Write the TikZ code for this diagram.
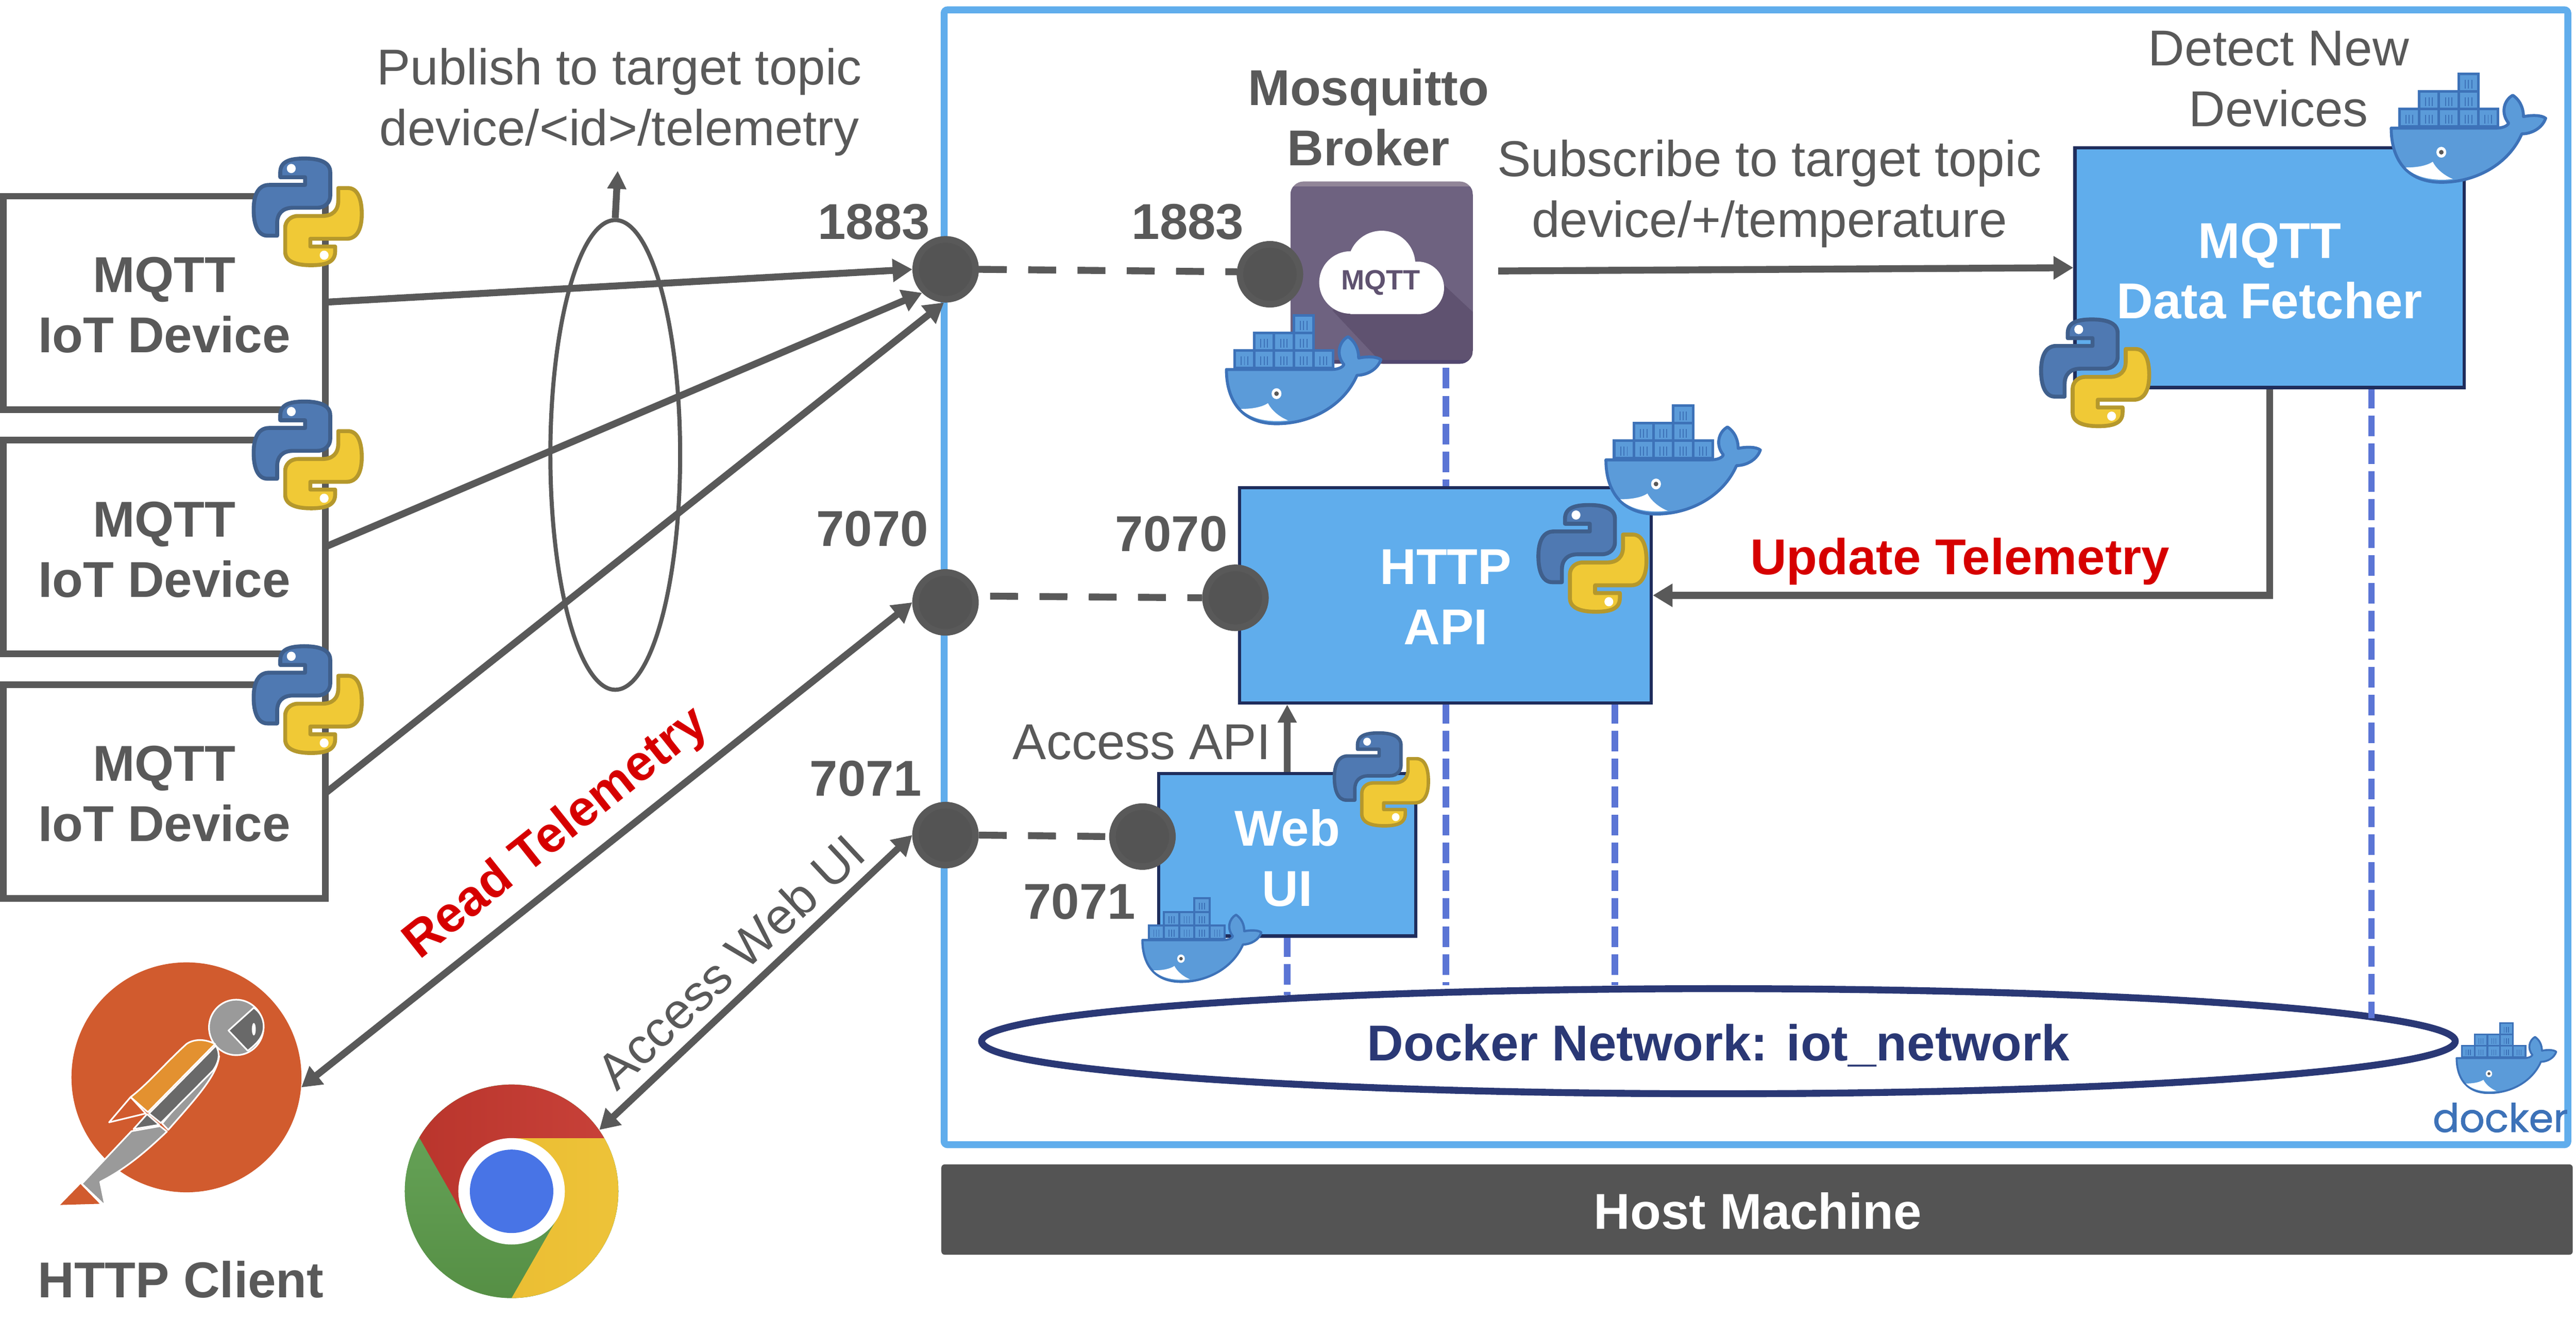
\documentclass[tikz,border=0pt]{standalone}
\usepackage{fontspec}
\setmainfont{Liberation Sans}
\newfontfamily\dockerfont[FakeBold=1.2]{Poppins}
\usetikzlibrary{arrows.meta,shapes.geometric}
\definecolor{grayink}{HTML}{595959}
\definecolor{portfill}{HTML}{545454}
\definecolor{hostgray}{HTML}{545454}
\definecolor{boxblue}{HTML}{60ADEC}
\definecolor{boxedge}{HTML}{1F2D5C}
\definecolor{netnavy}{HTML}{2A3875}
\definecolor{linkblue}{HTML}{5B75D5}
\definecolor{alertred}{HTML}{D60000}
\definecolor{pyblue}{HTML}{4F79B2}
\definecolor{pybluee}{HTML}{3F5F8C}
\definecolor{pyyel}{HTML}{F0C936}
\definecolor{pyyele}{HTML}{B5982C}
\definecolor{whalefill}{HTML}{5B9BD9}
\definecolor{whaleedge}{HTML}{3D72B8}
\definecolor{pmorange}{HTML}{D15B2E}
\definecolor{pmwing}{HTML}{E39130}
\definecolor{pmdark}{HTML}{696969}
\definecolor{pmgray}{HTML}{9A9A9A}
\definecolor{mqtta}{HTML}{6E6280}
\definecolor{mqttb}{HTML}{5F5270}
\definecolor{mqttc}{HTML}{918598}
\definecolor{mqttd}{HTML}{524870}
\definecolor{chgreA}{HTML}{6AA85C}
\definecolor{chgreB}{HTML}{558E44}
\definecolor{chyelA}{HTML}{EBBE33}
\definecolor{chyelB}{HTML}{EEC43A}
\definecolor{chredA}{HTML}{B8342B}
\definecolor{chredB}{HTML}{C9423A}
\definecolor{chblu}{HTML}{4874E6}
\newcommand{\pysnake}{(32.3,1.5) .. controls (22,1.5) and (17.6,4) .. (17.6,10) -- (17.6,12.9) -- (32.7,12.9) -- (32.7,17.6) -- (10.8,17.6) .. controls (4,17.6) and (1.4,24) .. (1.4,32.7) .. controls (1.4,42) and (4,48.5) .. (9.8,48.5) -- (15.7,48.5) -- (15.7,40.9) .. controls (15.7,35) and (19,31.5) .. (25.5,31.5) -- (40.2,31.5) .. controls (45,31.5) and (48,28) .. (48,24.4) -- (48,9.8) .. controls (48,4) and (42,1.5) .. (32.3,1.5) -- cycle}
\newcommand{\pyicon}[3]{%
 \begin{scope}[shift={(#1,#2)},scale=#3]
  \filldraw[fill=pyblue,draw=pybluee,line width=#3*2.4pt,line join=round] \pysnake;
  \fill[white] (24.3,7.6) ellipse (2.7 and 2.8);
  \begin{scope}[shift={(68.6,68)},xscale=-1,yscale=-1]
   \filldraw[fill=pyyel,draw=pyyele,line width=#3*2.4pt,line join=round] \pysnake;
   \fill[white] (24.3,7.6) ellipse (2.7 and 2.8);
  \end{scope}
 \end{scope}}
\newcommand{\boxrow}[3]{\filldraw[fill=whalefill,draw=whaleedge,line width=#3*1.6pt] (#1,#2) rectangle ++(12,10.7);
  \draw[whaleedge,line width=#3*.6pt] (#1+4,#2+3.5) -- ++(0,5.5) (#1+6,#2+3.5) -- ++(0,5.5) (#1+8,#2+3.5) -- ++(0,5.5);}
\newcommand{\whale}[3]{%
 \begin{scope}[shift={(#1,#2)},scale=#3]
  \boxrow{41.5}{0}{#3}
  \boxrow{17.5}{10.7}{#3}\boxrow{29.5}{10.7}{#3}\boxrow{41.5}{10.7}{#3}
  \boxrow{5.5}{21.4}{#3}\boxrow{17.5}{21.4}{#3}\boxrow{29.5}{21.4}{#3}\boxrow{41.5}{21.4}{#3}\boxrow{53.5}{21.4}{#3}
  \filldraw[fill=whalefill,draw=whaleedge,line width=#3*1.8pt,line join=round]
   (0.5,33) -- (64,33) .. controls (68,33) and (71,32) .. (72,30) .. controls (67,24) and (69,16) .. (74.5,13)
   .. controls (79,16) and (81,21) .. (81,26) .. controls (86,25) and (92,25) .. (94.5,27)
   .. controls (92.5,33) and (86,36.5) .. (80,36.5) .. controls (72,55) and (52,66) .. (31,66)
   .. controls (10,66) and (0.5,52) .. (0.5,33) -- cycle;
  \filldraw[fill=white,draw=none] (9.3,57) .. controls (16,57) and (22,56) .. (25.8,53.5) .. controls (28,58) and (33,62) .. (38,64) .. controls (26,65.5) and (15,63) .. (9.3,57) -- cycle;
  \fill[white] (31,47.7) ellipse (3 and 3.3);
  \fill[black!65] (31,47.7) circle (1.4);
 \end{scope}}
\tikzset{
 iotbox/.style={draw=grayink,line width=4pt,fill=white,minimum width=196pt,minimum height=130pt,inner sep=0pt},
 bluebox/.style={draw=boxedge,line width=2pt,fill=boxblue,inner sep=0pt},
 portdot/.style={circle,draw=grayink,line width=4pt,fill=portfill,minimum size=36.5pt,inner sep=0pt},
 boldgray/.style={font=\fontsize{30.7}{36.8}\selectfont\bfseries,text=grayink,align=center},
 boldwhite/.style={font=\fontsize{30.7}{36.8}\selectfont\bfseries,text=white,align=center},
 reggray/.style={font=\fontsize{30.7}{37}\selectfont,text=grayink,align=center},
 redlabel/.style={font=\fontsize{30.7}{36}\selectfont\bfseries,text=alertred},
 link/.style={draw=grayink,line width=4.2pt},
 linkarrow/.style={link,-{Triangle[length=12pt,width=13.5pt]}},
 biarrow/.style={link,{Triangle[length=12pt,width=13.5pt]}-{Triangle[length=12pt,width=13.5pt]}},
 portdash/.style={draw=grayink,line width=4.2pt,dash pattern=on 17pt off 13pt},
 netdash/.style={draw=linkblue,line width=4pt,dash pattern=on 12.6pt off 4.4pt},
 wing/.style={draw=white,line width=1pt,line join=round}
}
\begin{document}
\begin{tikzpicture}[x=1pt,y=-1pt]
\useasboundingbox (0,0) rectangle (1568,814.7);
% Docker frame and host
\node[draw=boxblue,line width=4.2pt,rounded corners=2pt,minimum width=988.3pt,minimum height=691pt,inner sep=0pt] (frame) at (1068.85,351.5) {};
\node[fill=hostgray,rounded corners=2pt,minimum width=993pt,minimum height=55pt,inner sep=0pt] (host) at (1069.5,736.5) {};
\node[boldwhite] (hosttext) at (1070,737.5) {Host Machine};
% Network
\node[ellipse,draw=netnavy,line width=4.2pt,minimum width=897pt,minimum height=64pt,inner sep=0pt] (net) at (1046,634) {};
\node[font=\fontsize{30.7}{36}\selectfont\bfseries,text=netnavy] (nettext) at (1046,636.5) {Docker Network: iot\_network};
% Blue dashed network links
\coordinate (n1) at (880,224);
\coordinate (n1b) at (880,600);
\coordinate (n2) at (983,428);
\coordinate (n2b) at (983,600);
\coordinate (n3) at (1443.5,236);
\coordinate (n3b) at (1443.5,620);
\coordinate (n4) at (783.5,570);
\coordinate (n4b) at (783.5,606);
\draw[netdash] (n1) -- (n1b);
\draw[netdash] (n2) -- (n2b);
\draw[netdash] (n3) -- (n3b);
\draw[netdash] (n4) -- (n4b);
% IoT devices
\node[iotbox] (dev1) at (100,184.5) {};
\node[iotbox] (dev2) at (100,333) {};
\node[iotbox] (dev3) at (100,482) {};
\node[boldgray] (dev1t) at (100,185.7) {MQTT\\IoT Device};
\node[boldgray] (dev2t) at (100,334.7) {MQTT\\IoT Device};
\node[boldgray] (dev3t) at (100,483.3) {MQTT\\IoT Device};
% Blue boxes
\node[bluebox,minimum width=237pt,minimum height=146pt] (fetcher) at (1381.5,163) {};
\node[bluebox,minimum width=250.5pt,minimum height=131pt] (api) at (879.8,362.5) {};
\node[bluebox,minimum width=156.5pt,minimum height=99pt] (web) at (783.5,520.5) {};
\node[boldwhite] (fetchert) at (1381.5,165) {MQTT\\Data Fetcher};
\node[boldwhite] (apit) at (880,363.5) {HTTP\\API};
\node[boldwhite] (webt) at (783.5,522.5) {Web\\UI};
% Broker icon
\node[minimum width=111pt,minimum height=111pt,inner sep=0pt] (broker) at (841,166) {};
\fill[mqttc,rounded corners=8pt] (785.5,110.5) rectangle (896.5,221.5);
\begin{scope}
 \clip[rounded corners=8pt] (785.5,110.5) rectangle (896.5,221.5);
 \fill[mqtta] (785.5,113.5) rectangle (896.5,221.5);
 \fill[mqttb] (864.5,160) -- (896.5,190) -- (896.5,221.5) -- (841.5,221.5) -- (811,189) -- cycle;
 \fill[mqttd] (785.5,219.3) rectangle (896.5,221.5);
\end{scope}
\fill[white] (822,172) circle (19);
\fill[white] (841,161) circle (20.5);
\fill[white] (863,175.3) circle (16);
\fill[white] (822,172) rectangle (863,191.2);
\node[font=\fontsize{17}{20}\selectfont\bfseries,text=mqttb,inner sep=0pt] (mqttlogo) at (840.5,172) {MQTT};
% Ports
\node[portdot] (p1) at (575.6,164) {};
\node[portdot] (p2) at (575.5,366.8) {};
\node[portdot] (p3) at (575.5,508.5) {};
\node[portdot] (q1) at (773,167) {};
\node[portdot] (q2) at (752,364) {};
\node[portdot] (q3) at (695.4,509.4) {};
% Dashed port maps
\coordinate (p2d) at (602.7,363);
\coordinate (q1d) at (753,165.5);
\draw[portdash] (p1.east) -- (q1d);
\draw[portdash] (p2d) -- (q2.west);
\draw[portdash] (p3.east) -- (q3.west);
% Publish
\node[ellipse,draw=grayink,line width=2.5pt,minimum width=79pt,minimum height=286pt,inner sep=0pt] (pub) at (374.5,277) {};
\coordinate (pubtip) at (376,104);
\draw[link,-{Triangle[length=11pt,width=11pt]}] (pub.north) -- (pubtip);
% Device arrows
\coordinate (d1) at (198,184);
\coordinate (d2) at (198,333);
\coordinate (d3) at (198,483);
\draw[linkarrow] (d1) -- (p1.180);
\draw[linkarrow] (d2) -- (p1.225);
\draw[linkarrow] (d3) -- (p1.267);
% Clients
\node[circle,fill=pmorange,minimum size=140pt,inner sep=0pt] (pm) at (113.5,656) {};
\node[circle,fill=chgreB,minimum size=130pt,inner sep=0pt] (chrome) at (311.4,725.4) {};
\begin{scope}[shift={(311.4,725.4)}]
 \clip (0,0) circle (65);
 \shade[top color=chgreA,bottom color=chgreB] (-70,-70) rectangle (70,70);
 \shade[left color=chyelA,right color=chyelB] (0,-32.4) -- (80,-32.4) -- (80,80) -- (0,65) -- (27.4,17.2) -- cycle;
 \shade[left color=chredA,right color=chredB] (-56.2,-32.8) -- (-29.9,13.4) -- (0,0) -- (0,-32.4) -- (70,-32.4) -- (70,-80) -- (-70,-80) -- (-70,-32.8) -- cycle;
 \fill[white] (0,0) circle (32.4);
 \fill[chblu] (0,0) circle (25.4);
\end{scope}
% Postman bird
\filldraw[fill=pmgray,wing] (143.8,625.6) ellipse (16.6 and 16.9);
\filldraw[fill=pmdark,wing] (154.5,613.6) -- (139.1,627.5) -- (150.8,639.8) .. controls (157,635) and (160.5,631) .. (160.5,625) .. controls (160.5,620) and (158,616) .. (154.5,613.6) -- cycle;
\fill[white] (154.5,626.7) ellipse (1.2 and 3.8);
\filldraw[fill=pmwing,wing] (79.5,668) -- (90,677.2) -- (130.9,635.7) .. controls (125,632.5) and (118,632.5) .. (113.5,635.7) .. controls (100,648) and (90,660) .. (79.5,668) -- cycle;
\filldraw[fill=pmorange,wing] (79.5,668) -- (66.4,683.4) -- (88.7,678) -- cycle;
\filldraw[fill=pmgray,wing] (98.7,684.1) -- (102.4,688) .. controls (120,668) and (132,655) .. (133.4,643) -- cycle;
\filldraw[fill=pmdark,wing] (90.7,678) -- (97.9,683.8) -- (129.7,651.8) .. controls (133,647) and (134.5,642) .. (131.4,636.7) -- cycle;
\filldraw[fill=pmdark,wing] (89.5,678.4) -- (81.3,687.5) -- (96.9,684.9) -- cycle;
\filldraw[fill=pmgray,wing] (80,688.8) -- (97.4,685.7) -- (101.6,689) .. controls (88,702) and (76,712) .. (61,719.6) -- (64,734.2) -- (49.8,720.8) -- cycle;
\fill[pmorange] (49,721) -- (36.6,733.7) -- (60.7,733) -- cycle;
% Client arrows
\draw[biarrow] (p2.180) -- (pm.-5);
\draw[biarrow] (p3.180) -- (chrome.35);
% Internal arrows
\coordinate (subs) at (912,165);
\draw[linkarrow] (subs) -- (fetcher.west);
\draw[linkarrow] (fetcher.south) |- (api.east);
\draw[link,-{Triangle[length=11pt,width=11pt]}] (web.north) -- (web.north |- api.south);
% Python icons
\pyicon{153}{95}{1}
\pyicon{153}{243}{1}
\pyicon{153}{392}{1}
\pyicon{1241}{193}{1}
\pyicon{935}{306}{1}
\pyicon{811}{445}{.87}
% Whales
\whale{746}{192}{1}
\whale{1455}{45}{1}
\whale{977}{247}{1}
\whale{695}{547}{.77}
\whale{1495}{623}{.645}
\node[font=\dockerfont\fontsize{24}{28}\selectfont,text=whaleedge,inner sep=0pt] (dockerword) at (1522,680.5) {docker};
% Labels
\node[reggray] (lpub) at (377,62) {Publish to target topic\\device/<id>/telemetry};
\node[boldgray] (l1) at (532,135) {1883};
\node[boldgray] (l2) at (531,322) {7070};
\node[boldgray] (l3) at (527,474) {7071};
\node[boldgray] (l4) at (723,135) {1883};
\node[boldgray] (l5) at (713,325) {7070};
\node[boldgray] (l6) at (657,549) {7071};
\node[boldgray] (lbroker) at (833,71.5) {Mosquitto\\Broker};
\node[reggray] (lsub) at (1077,118) {Subscribe to target topic\\device/+/temperature};
\node[reggray] (ldet) at (1387,48) {Detect New\\Devices};
\node[boldgray] (lhttp) at (110,779) {HTTP Client};
\node[redlabel] (lupd) at (1193,342) {Update Telemetry};
\node[reggray] (lacc) at (695,452) {Access API};
\node[redlabel,rotate=38.5] (lread) at (339,508) {Read Telemetry};
\node[reggray,rotate=43] (lweb) at (444.5,585.5) {Access Web UI};
\end{tikzpicture}
\end{document}
